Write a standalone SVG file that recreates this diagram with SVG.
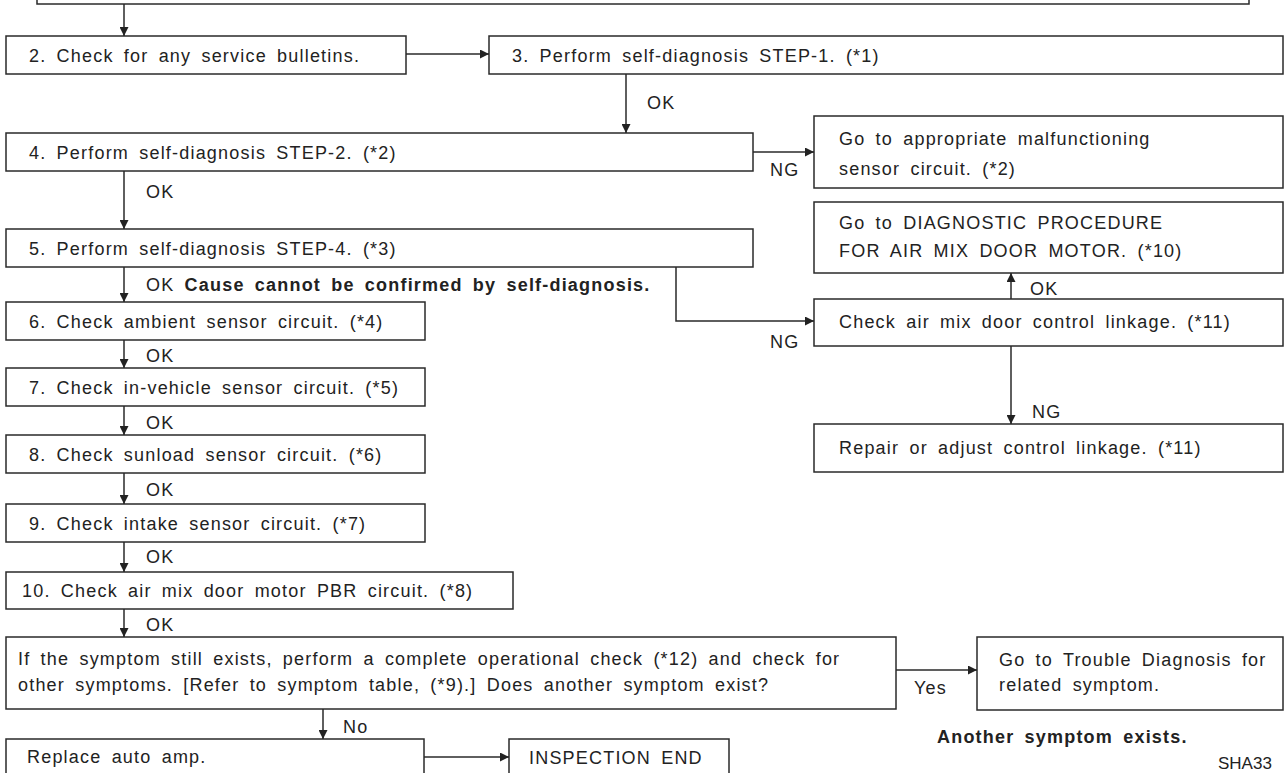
<svg xmlns="http://www.w3.org/2000/svg" width="1288" height="773" viewBox="0 0 1288 773">
<defs>
<style>
.b{fill:#fff;stroke:#2a2a2a;stroke-width:1.5}
.t{font-family:"Liberation Sans",Arial,sans-serif;font-size:18px;fill:#222;letter-spacing:1.2px;word-spacing:4px}
.bd{font-weight:bold}
.c{fill:none;stroke:#2a2a2a;stroke-width:1.5}
</style>
<marker id="ah" viewBox="0 0 10 10" refX="10" refY="5" markerWidth="10" markerHeight="9" markerUnits="userSpaceOnUse" orient="auto"><path d="M0,0 L10,5 L0,10 z" fill="#222"/></marker>
</defs>
<rect width="1288" height="773" fill="#fff"/>
<g id="n1"><rect class="b" x="37" y="-20" width="1212" height="24"/></g>
<g id="n2"><rect class="b" x="6" y="36" width="400" height="38"/><text class="t" x="29" y="62">2. Check for any service bulletins.</text></g>
<g id="n3"><rect class="b" x="489" y="36" width="794" height="38"/><text class="t" x="512" y="62">3. Perform self-diagnosis STEP-1. (*1)</text></g>
<g id="n4"><rect class="b" x="6" y="133" width="747" height="38"/><text class="t" x="29" y="159">4. Perform self-diagnosis STEP-2. (*2)</text></g>
<g id="n4ng"><rect class="b" x="814" y="116" width="469" height="72"/><text class="t" x="839" y="145">Go to appropriate malfunctioning</text><text class="t" x="839" y="175">sensor circuit. (*2)</text></g>
<g id="n5"><rect class="b" x="6" y="229" width="747" height="38"/><text class="t" x="29" y="255">5. Perform self-diagnosis STEP-4. (*3)</text></g>
<g id="ndiag"><rect class="b" x="814" y="202" width="469" height="71"/><text class="t" x="839" y="229">Go to DIAGNOSTIC PROCEDURE</text><text class="t" x="839" y="257">FOR AIR MIX DOOR MOTOR. (*10)</text></g>
<g id="nlink"><rect class="b" x="814" y="299" width="469" height="47"/><text class="t" x="839" y="328">Check air mix door control linkage. (*11)</text></g>
<g id="nrepair"><rect class="b" x="814" y="424" width="469" height="48"/><text class="t" x="839" y="454">Repair or adjust control linkage. (*11)</text></g>
<g id="n6"><rect class="b" x="6" y="302" width="419" height="38"/><text class="t" x="29" y="328">6. Check ambient sensor circuit. (*4)</text></g>
<g id="n7"><rect class="b" x="6" y="368" width="419" height="38"/><text class="t" x="29" y="394">7. Check in-vehicle sensor circuit. (*5)</text></g>
<g id="n8"><rect class="b" x="6" y="435" width="419" height="38"/><text class="t" x="29" y="461">8. Check sunload sensor circuit. (*6)</text></g>
<g id="n9"><rect class="b" x="6" y="504" width="419" height="38"/><text class="t" x="29" y="530">9. Check intake sensor circuit. (*7)</text></g>
<g id="n10"><rect class="b" x="6" y="572" width="507" height="37"/><text class="t" x="22" y="597">10. Check air mix door motor PBR circuit. (*8)</text></g>
<g id="n11"><rect class="b" x="6" y="637" width="890" height="72"/><text class="t" x="18" y="665">If the symptom still exists, perform a complete operational check (*12) and check for</text><text class="t" x="18" y="691">other symptoms. [Refer to symptom table, (*9).] Does another symptom exist?</text></g>
<g id="ntrouble"><rect class="b" x="977" y="637" width="306" height="73"/><text class="t" x="999" y="666">Go to Trouble Diagnosis for</text><text class="t" x="999" y="691">related symptom.</text></g>
<g id="nreplace"><rect class="b" x="6" y="739" width="418" height="50"/><text class="t" x="27" y="763">Replace auto amp.</text></g>
<g id="nend"><rect class="b" x="509" y="739" width="220" height="50"/><text class="t" x="529" y="764">INSPECTION END</text></g>
<g id="connectors">
<path class="c" d="M124,4 V36" marker-end="url(#ah)"/>
<path class="c" d="M406,54 H489" marker-end="url(#ah)"/>
<path class="c" d="M626,74 V133" marker-end="url(#ah)"/>
<path class="c" d="M753,152 H814" marker-end="url(#ah)"/>
<path class="c" d="M124,171 V229" marker-end="url(#ah)"/>
<path class="c" d="M676,267 V321 H814" marker-end="url(#ah)"/>
<path class="c" d="M1011,299 V273" marker-end="url(#ah)"/>
<path class="c" d="M1011,346 V424" marker-end="url(#ah)"/>
<path class="c" d="M124,267 V302" marker-end="url(#ah)"/>
<path class="c" d="M124,340 V368" marker-end="url(#ah)"/>
<path class="c" d="M124,406 V435" marker-end="url(#ah)"/>
<path class="c" d="M124,473 V504" marker-end="url(#ah)"/>
<path class="c" d="M124,542 V572" marker-end="url(#ah)"/>
<path class="c" d="M124,609 V637" marker-end="url(#ah)"/>
<path class="c" d="M323,709 V739" marker-end="url(#ah)"/>
<path class="c" d="M424,757 H509" marker-end="url(#ah)"/>
<path class="c" d="M896,670 H977" marker-end="url(#ah)"/>
<text class="t" x="647" y="109">OK</text>
<text class="t" x="770" y="176">NG</text>
<text class="t" x="146" y="198">OK</text>
<text class="t" x="146" y="291">OK <tspan class="bd">Cause cannot be confirmed by self-diagnosis.</tspan></text>
<text class="t" x="770" y="348">NG</text>
<text class="t" x="1030" y="295">OK</text>
<text class="t" x="1032" y="418">NG</text>
<text class="t" x="146" y="362">OK</text>
<text class="t" x="146" y="429">OK</text>
<text class="t" x="146" y="496">OK</text>
<text class="t" x="146" y="563">OK</text>
<text class="t" x="146" y="631">OK</text>
<text class="t" x="343" y="733">No</text>
<text class="t" x="914" y="694">Yes</text>
</g>
<text class="t bd" x="937" y="743">Another symptom exists.</text>
<text x="1218" y="769" style="font-family:'Liberation Sans',Arial,sans-serif;font-size:17px;fill:#222">SHA33</text>
</svg>
